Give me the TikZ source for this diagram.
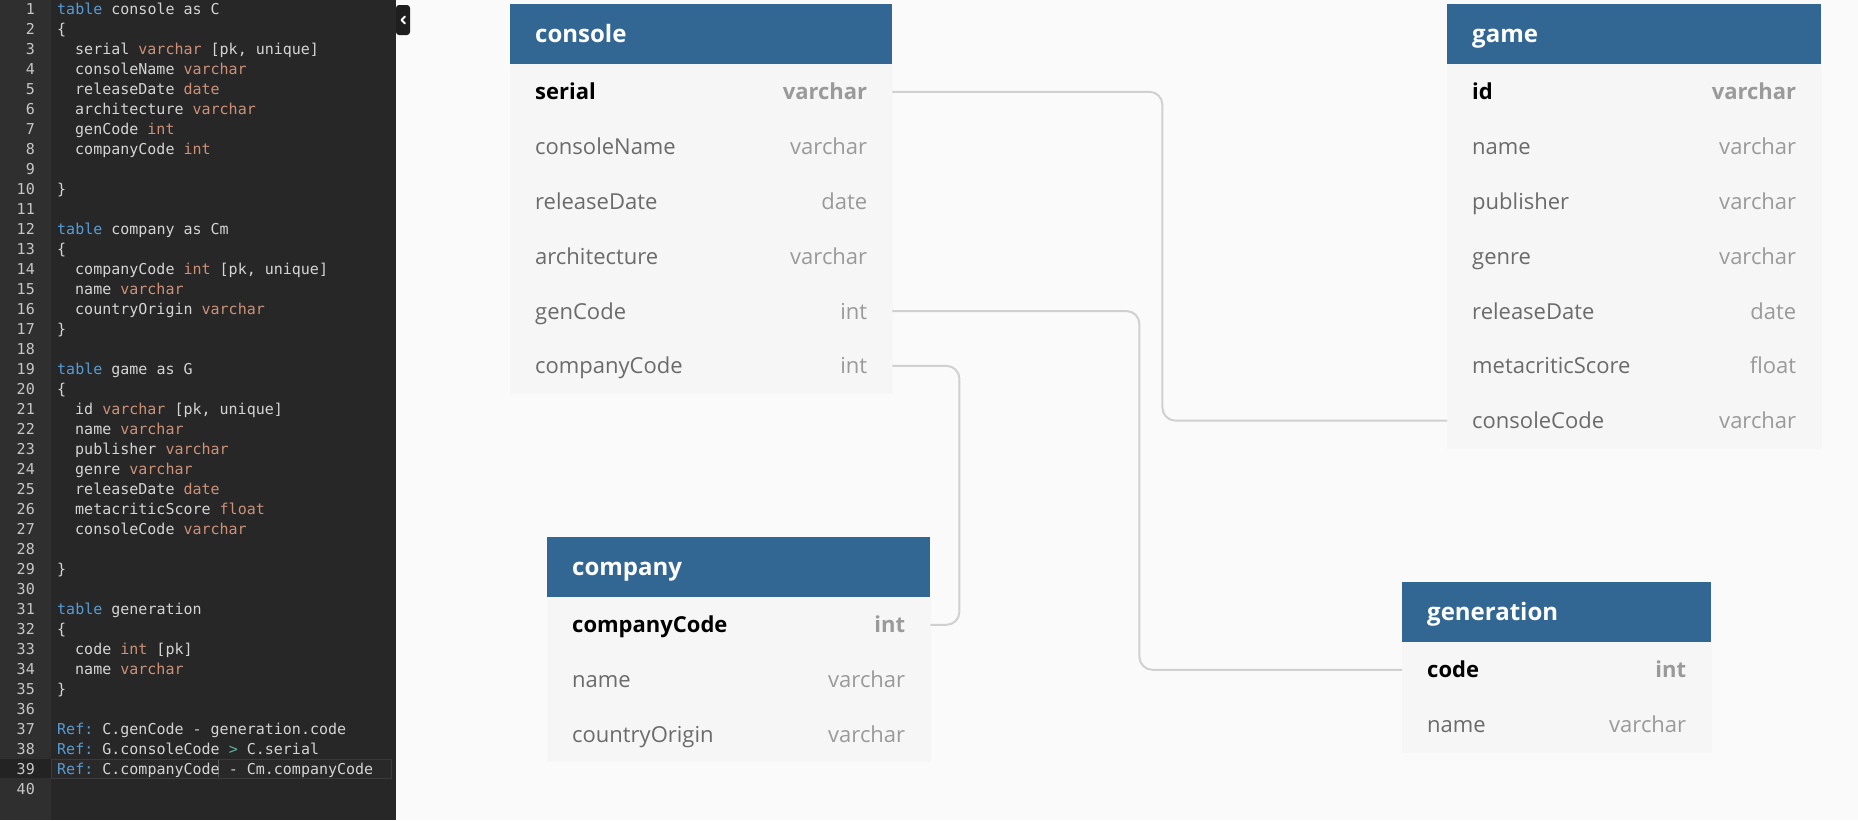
\documentclass[tikz,border=0pt]{standalone}
\usepackage{fontspec}
\setmainfont{Open Sans}
\setmonofont{DejaVu Sans Mono}
\usetikzlibrary{positioning}

\definecolor{editorbg}{HTML}{272727}
\definecolor{gutterbg}{HTML}{2F2F2F}
\definecolor{curgutter}{HTML}{232323}
\definecolor{curline}{HTML}{292929}
\definecolor{curborder}{HTML}{3A3A3A}
\definecolor{lnumcol}{HTML}{C6C6C6}
\definecolor{codetxt}{HTML}{D4D4D4}
\definecolor{kwblue}{HTML}{569CD6}
\definecolor{tyorange}{HTML}{CE9178}
\definecolor{opteal}{HTML}{5FB3A1}
\definecolor{canvas}{HTML}{FAFAFA}
\definecolor{headblue}{HTML}{326794}
\definecolor{rowfill}{HTML}{F6F6F6}
\definecolor{namegray}{HTML}{6B6B6B}
\definecolor{typegray}{HTML}{9A9A9A}
\definecolor{linkgray}{HTML}{D0D0D0}

\newcommand{\codefont}{\fontsize{15}{18}\ttfamily}
\newcommand{\kw}[1]{\textcolor{kwblue}{#1}}
\newcommand{\ty}[1]{\textcolor{tyorange}{#1}}
\newcommand{\tp}[1]{\textcolor{typegray}{#1}}

\begin{document}
\begin{tikzpicture}[
    x=1pt, y=-1pt,
    tbl/.style={rectangle, fill=headblue, text=white, anchor=north west, align=left, inner xsep=25pt, inner ysep=0pt, minimum height=60pt, text height=22pt, text depth=5pt, font=\fontsize{24}{28}\selectfont\bfseries},
    fld/.style={rectangle, fill=rowfill, draw=rowfill, line width=0.4pt, text=namegray, align=left, inner xsep=25pt, inner ysep=0pt, minimum height=54.4pt, text height=21pt, text depth=5pt, text width=#1, font=\fontsize{22}{26}\selectfont},
    pkfld/.style={fld=#1, text=black, font=\fontsize{22}{26}\selectfont\bfseries},
    link/.style={draw=linkgray, line width=2pt, rounded corners=13pt},
    lnum/.style={anchor=base east, inner sep=0pt, text=lnumcol, font=\codefont},
    code/.style={anchor=base west, inner sep=0pt, text=codetxt, font=\codefont},
    toggle/.style={rectangle, fill=black!88, rounded corners=3pt, minimum width=14pt, minimum height=30pt, inner sep=0pt}
]
\useasboundingbox (0,0) rectangle (1858,820);

% Panels
\fill[canvas] (396,0) rectangle (1858,820);
\fill[editorbg] (0,0) rectangle (396,820);
\fill[gutterbg] (0,0) rectangle (51,820);

% Current line
\fill[curgutter] (0,759) rectangle (51,778);
\filldraw[fill=curline, draw=curborder, line width=1pt] (51,759) rectangle (391,778);
\draw[gray!70!black, line width=1pt] (218,760) -- (218,777);

% Line numbers
\foreach \n in {1,...,40}
    \node[lnum] (num\n) at (35, {20*\n-6}) {\n};

% Code
\node[code] (ln1) at (57,14) {\kw{table} console as C};
\node[code] (ln2) at (57,34) {\{};
\node[code] (ln3) at (75,54) {serial \ty{varchar} [pk, unique]};
\node[code] (ln4) at (75,74) {consoleName \ty{varchar}};
\node[code] (ln5) at (75,94) {releaseDate \ty{date}};
\node[code] (ln6) at (75,114) {architecture \ty{varchar}};
\node[code] (ln7) at (75,134) {genCode \ty{int}};
\node[code] (ln8) at (75,154) {companyCode \ty{int}};
\node[code] (ln10) at (57,194) {\}};
\node[code] (ln12) at (57,234) {\kw{table} company as Cm};
\node[code] (ln13) at (57,254) {\{};
\node[code] (ln14) at (75,274) {companyCode \ty{int} [pk, unique]};
\node[code] (ln15) at (75,294) {name \ty{varchar}};
\node[code] (ln16) at (75,314) {countryOrigin \ty{varchar}};
\node[code] (ln17) at (57,334) {\}};
\node[code] (ln19) at (57,374) {\kw{table} game as G};
\node[code] (ln20) at (57,394) {\{};
\node[code] (ln21) at (75,414) {id \ty{varchar} [pk, unique]};
\node[code] (ln22) at (75,434) {name \ty{varchar}};
\node[code] (ln23) at (75,454) {publisher \ty{varchar}};
\node[code] (ln24) at (75,474) {genre \ty{varchar}};
\node[code] (ln25) at (75,494) {releaseDate \ty{date}};
\node[code] (ln26) at (75,514) {metacriticScore \ty{float}};
\node[code] (ln27) at (75,534) {consoleCode \ty{varchar}};
\node[code] (ln29) at (57,574) {\}};
\node[code] (ln31) at (57,614) {\kw{table} generation};
\node[code] (ln32) at (57,634) {\{};
\node[code] (ln33) at (75,654) {code \ty{int} [pk]};
\node[code] (ln34) at (75,674) {name \ty{varchar}};
\node[code] (ln35) at (57,694) {\}};
\node[code] (ln37) at (57,734) {\kw{Ref:} C.genCode - generation.code};
\node[code] (ln38) at (57,754) {\kw{Ref:} G.consoleCode \textcolor{opteal}{>} C.serial};
\node[code] (ln39) at (57,774) {\kw{Ref:} C.companyCode - Cm.companyCode};

% Collapse button
\node[toggle] (btn) at (403,20) {};
\draw[white, line width=1.8pt, line cap=round, line join=round] (405,16.5) -- (401.5,20) -- (405,23.5);

% Table console
\node[tbl, text width=332pt] (con) at (510,4) {console};
\node[pkfld=332pt, below=0pt of con] (con_serial) {serial\hfill\tp{varchar}};
\node[fld=332pt, below=0pt of con_serial] (con_name) {consoleName\hfill\tp{varchar}};
\node[fld=332pt, below=0pt of con_name] (con_date) {releaseDate\hfill\tp{date}};
\node[fld=332pt, below=0pt of con_date] (con_arch) {architecture\hfill\tp{varchar}};
\node[fld=332pt, below=0pt of con_arch] (con_gencode) {genCode\hfill\tp{int}};
\node[fld=332pt, below=0pt of con_gencode] (con_compcode) {companyCode\hfill\tp{int}};

% Table game
\node[tbl, text width=324pt] (game) at (1447,4) {game};
\node[pkfld=324pt, below=0pt of game] (game_id) {id\hfill\tp{varchar}};
\node[fld=324pt, below=0pt of game_id] (game_name) {name\hfill\tp{varchar}};
\node[fld=324pt, below=0pt of game_name] (game_pub) {publisher\hfill\tp{varchar}};
\node[fld=324pt, below=0pt of game_pub] (game_genre) {genre\hfill\tp{varchar}};
\node[fld=324pt, below=0pt of game_genre] (game_date) {releaseDate\hfill\tp{date}};
\node[fld=324pt, below=0pt of game_date] (game_score) {metacriticScore\hfill\tp{float}};
\node[fld=324pt, below=0pt of game_score] (game_concode) {consoleCode\hfill\tp{varchar}};

% Table company
\node[tbl, text width=333pt] (comp) at (547,537) {company};
\node[pkfld=333pt, below=0pt of comp] (comp_code) {companyCode\hfill\tp{int}};
\node[fld=333pt, below=0pt of comp_code] (comp_name) {name\hfill\tp{varchar}};
\node[fld=333pt, below=0pt of comp_name] (comp_country) {countryOrigin\hfill\tp{varchar}};

% Table generation
\node[tbl, text width=259pt] (gen) at (1402,582) {generation};
\node[pkfld=259pt, below=0pt of gen] (gen_code) {code\hfill\tp{int}};
\node[fld=259pt, below=0pt of gen_code] (gen_name) {name\hfill\tp{varchar}};

% References
\draw[link] (con_serial.east) -- ++(270,0) |- (game_concode.west);
\draw[link] (con_gencode.east) -- ++(247,0) |- (gen_code.west);
\draw[link] (con_compcode.east) -- ++(67,0) |- (comp_code.east);

\end{tikzpicture}
\end{document}
